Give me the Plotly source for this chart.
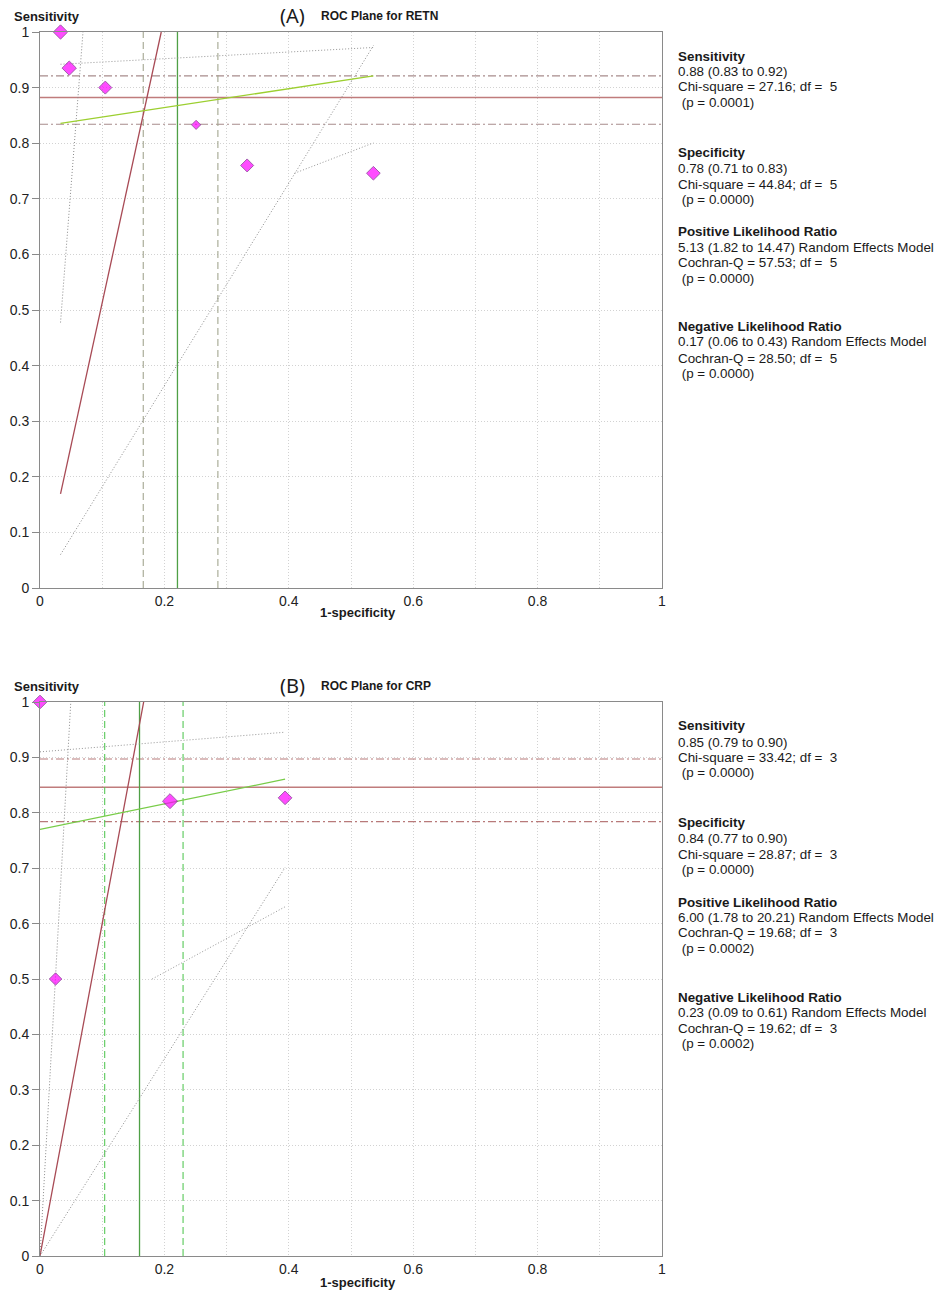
import plotly.graph_objects as go

# study points (x = 1-specificity, y = sensitivity)
retn_fpr = [0.033, 0.047, 0.105, 0.251, 0.333, 0.536]
retn_sens = [1.000, 0.935, 0.900, 0.833, 0.760, 0.746]
crp_fpr = [0.000, 0.025, 0.209, 0.394]
crp_sens = [1.000, 0.500, 0.821, 0.827]

# pooled estimates: [estimate, lower, upper]
retn_pooled_sens = [0.882, 0.834, 0.921]
retn_pooled_spec = [0.779, 0.714, 0.834]
retn_plr = [5.13, 1.82, 14.47]
retn_nlr = [0.17, 0.06, 0.43]
crp_pooled_sens = [0.846, 0.784, 0.897]
crp_pooled_spec = [0.840, 0.770, 0.896]
crp_plr = [6.00, 1.78, 20.21]
crp_nlr = [0.23, 0.09, 0.61]

retn_stats = [
    ["Sensitivity", "0.88 (0.83 to 0.92)", "Chi-square = 27.16; df =  5", " (p = 0.0001)"],
    ["Specificity", "0.78 (0.71 to 0.83)", "Chi-square = 44.84; df =  5", " (p = 0.0000)"],
    ["Positive Likelihood Ratio", "5.13 (1.82 to 14.47) Random Effects Model",
     "Cochran-Q = 57.53; df =  5", " (p = 0.0000)"],
    ["Negative Likelihood Ratio", "0.17 (0.06 to 0.43) Random Effects Model",
     "Cochran-Q = 28.50; df =  5", " (p = 0.0000)"],
]
crp_stats = [
    ["Sensitivity", "0.85 (0.79 to 0.90)", "Chi-square = 33.42; df =  3", " (p = 0.0000)"],
    ["Specificity", "0.84 (0.77 to 0.90)", "Chi-square = 28.87; df =  3", " (p = 0.0000)"],
    ["Positive Likelihood Ratio", "6.00 (1.78 to 20.21) Random Effects Model",
     "Cochran-Q = 19.68; df =  3", " (p = 0.0002)"],
    ["Negative Likelihood Ratio", "0.23 (0.09 to 0.61) Random Effects Model",
     "Cochran-Q = 19.62; df =  3", " (p = 0.0002)"],
]

# marker sizes (study weights, drawn size)
retn_marker = [11, 11, 10, 7, 10, 10.5]
crp_marker = [10.5, 9.5, 11.5, 10.5]

W, H = 936, 1291
FONT = "Liberation Sans, Arial, sans-serif"
GRID = "#d2d2d2"
FRAME = "#8a8a8a"


def px(x):
    return x / W


def py(y):
    return 1 - y / H


fig = go.Figure()


def line(xs, ys, color, dash="solid", width=1, xa="x", ya="y"):
    fig.add_trace(go.Scatter(x=xs, y=ys, mode="lines", xaxis=xa, yaxis=ya,
                             line=dict(color=color, dash=dash, width=width),
                             hoverinfo="skip"))


def add_panel(xa, ya, fpr, sens, psens, pspec, plr, nlr, sizes, col):
    # pooled sensitivity and CI
    line([0, 1], [psens[0]] * 2, "#c07c7c", width=1.5, xa=xa, ya=ya)
    for v in psens[1:]:
        line([0, 1], [v, v], col["sens_ci"], "8px,3px,2px,3px", width=1.1, xa=xa, ya=ya)
    # pooled specificity and CI
    line([1 - pspec[0]] * 2, [0, 1], "#4fa046", width=1.3, xa=xa, ya=ya)
    for v in pspec[1:]:
        line([1 - v] * 2, [0, 1], col["spec_ci"], "7px,4px", width=1.1, xa=xa, ya=ya)
    # positive likelihood ratio lines: sens = LR+ * (1-spec)
    x_lo, x_hi, y_lo = min(fpr), max(fpr), min(sens)
    for i, L in enumerate(plr):
        x1 = min(x_hi, 1 / L)
        c, d, w = ("#a84a55", "solid", 1.3) if i == 0 else ("#8a8a8a", "1px,2px", 1)
        line([x_lo, x1], [L * x_lo, L * x1], c, d, w, xa=xa, ya=ya)
    # negative likelihood ratio lines: sens = 1 - LR- * spec
    for i, L in enumerate(nlr):
        x0 = max(x_lo, 1 - (1 - y_lo) / L)
        c, d, w = (col["nlr"], "solid", 1.3) if i == 0 else ("#969696", "1px,2px", 1)
        line([x0, x_hi], [1 - L * (1 - x0), 1 - L * (1 - x_hi)], c, d, w, xa=xa, ya=ya)
    # studies
    fig.add_trace(go.Scatter(x=fpr, y=sens, mode="markers", xaxis=xa, yaxis=ya,
                             cliponaxis=False,
                             marker=dict(symbol="diamond", size=sizes, color="#ff00ff",
                                         line=dict(color="#7a1a8a", width=1))))


add_panel("x", "y", retn_fpr, retn_sens, retn_pooled_sens, retn_pooled_spec,
          retn_plr, retn_nlr, retn_marker,
          dict(sens_ci="#a88c8c", spec_ci="#a3a690", nlr="#9ccf30"))
add_panel("x2", "y2", crp_fpr, crp_sens, crp_pooled_sens, crp_pooled_spec,
          crp_plr, crp_nlr, crp_marker,
          dict(sens_ci="#b87a7a", spec_ci="#58c858", nlr="#78cc48"))

xbase = dict(range=[0, 1], showline=True, mirror=True, linecolor=FRAME, linewidth=1,
             showgrid=True, gridcolor=GRID, griddash="1px,2px", zeroline=False,
             dtick=0.2, ticks="", automargin=False,
             minor=dict(dtick=0.1, showgrid=True, gridcolor=GRID, griddash="1px,2px"),
             tickfont=dict(family=FONT, size=14, color="#222"))
ybase = dict(range=[0, 1], showline=True, mirror=True, linecolor=FRAME, linewidth=1,
             showgrid=True, gridcolor=GRID, griddash="1px,2px", zeroline=False,
             dtick=0.1, ticks="outside", ticklen=7, tickcolor=FRAME, automargin=False,
             tickfont=dict(family=FONT, size=14, color="#222"))

# plot boxes in pixels: left, right, top, bottom
boxes = [(40, 662, 32, 588), (40, 662, 702, 1256)]
(l1, r1, t1, b1), (l2, r2, t2, b2) = boxes
fig.update_layout(
    width=W, height=H, margin=dict(l=0, r=0, t=0, b=0, pad=0, autoexpand=False),
    plot_bgcolor="white", paper_bgcolor="white", showlegend=False,
    xaxis=dict(xbase, domain=[px(l1), px(r1)], anchor="y"),
    yaxis=dict(ybase, domain=[py(b1), py(t1)], anchor="x"),
    xaxis2=dict(xbase, domain=[px(l2), px(r2)], anchor="y2"),
    yaxis2=dict(ybase, domain=[py(b2), py(t2)], anchor="x2"),
)


def note(text, x, y, size=13, anchor="left", bold=False, family=FONT):
    if bold:
        text = "<b>" + text + "</b>"
    fig.add_annotation(text=text.replace("  ", " \u00a0"),
                       x=px(x), y=py(y), xref="paper", yref="paper",
                       showarrow=False, xanchor=anchor, yanchor="middle",
                       font=dict(family=family, size=size, color="#1a1a1a"))


stat_rows = [[56, 72, 87, 102], [152, 168, 184, 199],
             [232, 247, 262, 278], [327, 342, 358, 373]]

for (lbl, stats), top in zip([("(A)", retn_stats), ("(B)", crp_stats)], [0, 670]):
    note("Sensitivity", 12, 16 + top, 13, bold=True)
    note(lbl, 292, 15 + top, 20, anchor="center", family="Noto Sans, DejaVu Sans")
    note("ROC Plane for " + ("RETN" if lbl == "(A)" else "CRP"), 319, 16 + top, 12, bold=True)
    note("1-specificity", 358, 612 + top, 13, anchor="center", bold=True)
    for block, rows in zip(stats, stat_rows):
        for j, (txt, yy) in enumerate(zip(block, rows)):
            t = "\u00a0" + txt[1:] if txt.startswith(" ") else txt
            note(t, 676, yy + top, 13.4, bold=(j == 0))

fig.write_html("out.html", config={"displayModeBar": False},
               post_script="document.body.style.margin='0';"
                           "document.body.style.overflow='hidden';")
